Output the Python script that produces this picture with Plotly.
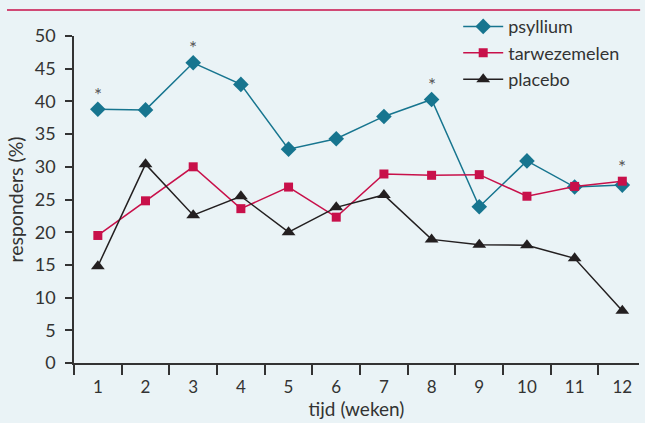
import plotly.graph_objects as go

weeks = [1, 2, 3, 4, 5, 6, 7, 8, 9, 10, 11, 12]
psyllium = [38.8, 38.7, 45.9, 42.6, 32.7, 34.3, 37.7, 40.3, 23.9, 30.9, 26.9, 27.2]
tarwezemelen = [19.5, 24.8, 30.0, 23.6, 26.9, 22.3, 28.9, 28.7, 28.8, 25.5, 27.0, 27.8]
placebo = [14.8, 30.4, 22.6, 25.5, 20.0, 23.8, 25.7, 18.9, 18.1, 18.0, 16.0, 8.0]
star_weeks = [1, 3, 8, 12]
star_values = [38.8, 45.9, 40.3, 27.8]

teal = "#17758f"
crimson = "#c8104a"
black = "#231f20"
bg = "#eaf3f6"
font = "Lato"

fig = go.Figure()
fig.add_trace(go.Scatter(x=weeks, y=psyllium, name="psyllium", mode="lines+markers",
                         line=dict(color=teal, width=1.5),
                         marker=dict(symbol="diamond", size=12, color=teal)))
fig.add_trace(go.Scatter(x=weeks, y=tarwezemelen, name="tarwezemelen", mode="lines+markers",
                         line=dict(color=crimson, width=1.5),
                         marker=dict(symbol="square", size=9, color=crimson)))
fig.add_trace(go.Scatter(x=weeks, y=placebo, name="placebo", mode="lines+markers",
                         line=dict(color=black, width=1.5),
                         marker=dict(symbol="triangle-up", size=12, color=black)))

for w, v in zip(star_weeks, star_values):
    fig.add_annotation(x=w, y=v, text="*", showarrow=False, yshift=15,
                       font=dict(family=font, size=19, color="#555555"))

fig.add_shape(type="line", xref="paper", yref="paper", x0=-0.1186, x1=1.002,
              y0=1.0795, y1=1.0795, line=dict(color=crimson, width=1.5))

fig.update_layout(
    width=645, height=423,
    margin=dict(l=74, r=6, t=36, b=60, autoexpand=False),
    paper_bgcolor=bg, plot_bgcolor=bg,
    font=dict(family=font, color="#333333", size=18),
    showlegend=True,
    legend=dict(x=0.68, y=1.085, xanchor="left", yanchor="top",
                bgcolor="rgba(0,0,0,0)", font=dict(size=18, color="#333333"),
                itemwidth=40, tracegroupgap=0),
    xaxis=dict(range=[0.5, 12.35], tickvals=weeks, ticktext=[str(w) for w in weeks],
               ticks="", showgrid=False, zeroline=False, showline=True, automargin=False,
               linecolor="#333333", linewidth=1.5, ticklabelstandoff=8,
               tickfont=dict(size=17),
               minor=dict(tickvals=[x + 0.5 for x in range(0, 12)], ticks="outside",
                          ticklen=10, tickcolor="#333333", tickwidth=1.5, showgrid=False),
               title=dict(text="tijd (weken)", standoff=0, font=dict(size=19))),
    yaxis=dict(range=[0, 50], tickvals=list(range(0, 51, 5)), ticks="outside",
               ticklen=7, tickcolor="#333333", tickwidth=1.5, showgrid=False, automargin=False,
               zeroline=False, showline=True, linecolor="#333333", linewidth=1.5,
               ticklabelstandoff=6,
               title=dict(text="responders (%)", standoff=6, font=dict(size=19.5))),
)

fig.write_html("out.html", config={"displayModeBar": False},
               post_script="document.body.style.margin='0';")
